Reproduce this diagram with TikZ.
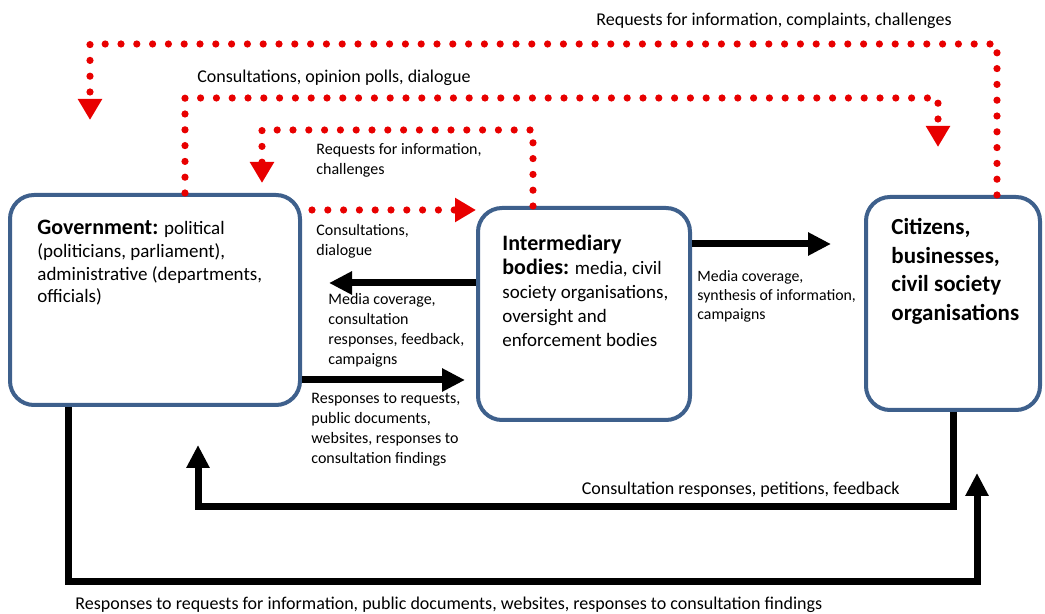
\documentclass[tikz,border=0pt]{standalone}
\usepackage{fontspec}
\setmainfont{Carlito}
\usetikzlibrary{arrows.meta}

\definecolor{boxblue}{RGB}{62,96,140}
\definecolor{dotred}{RGB}{232,0,0}

\begin{document}
\begin{tikzpicture}[x=0.5pt,y=-0.5pt,
	box/.style={draw=boxblue, line width=2pt, rounded corners=12pt},
	reddots/.style={draw=dotred, line width=3.6pt, line cap=round, dash pattern=on 0pt off 7.9pt, -{Triangle[width=11.5pt,length=10.5pt,fill=dotred,color=dotred]}},
	blackflow/.style={draw=black, line width=3.5pt, -{Triangle[width=11pt,length=11.5pt]}},
	lbl/.style={font=\fontsize{8}{10}\selectfont, inner sep=0pt, align=left},
	wide/.style={font=\fontsize{9}{10}\selectfont},
	boxtext/.style={font=\fontsize{9.5}{11.3}\selectfont, inner sep=0pt, align=left, anchor=north west}]

	\useasboundingbox (0,0) rectangle (1045,614);

	\node[box, minimum width=145pt, minimum height=105pt] (gov) at (155,300) {};
	\node[box, minimum width=106pt, minimum height=106pt] (int) at (584,314) {};
	\node[box, minimum width=87pt, minimum height=106.5pt] (cit) at (953,303.5) {};

	\node[boxtext] (govtxt) at (37,220) {{\fontsize{11}{11.3}\selectfont\bfseries Government:} political\\(politicians, parliament),\\administrative (departments,\\officials)};
	\node[boxtext, font=\fontsize{9.5}{11.9}\selectfont] (inttxt) at (502,235) {{\fontsize{11}{11.9}\selectfont\bfseries Intermediary}\\{\fontsize{11}{11.9}\selectfont\bfseries bodies:} media, civil\\society organisations,\\oversight and\\enforcement bodies};
	\node[boxtext, font=\fontsize{11.5}{14.3}\selectfont\bfseries] (cittxt) at (891,218) {Citizens,\\businesses,\\civil society\\organisations};

	\coordinate (o1) at (997,44);
	\coordinate (o2) at (90,120);
	\draw[reddots] (cit.north -| o1) -- (o1) -- (o1 -| o2) -- (o2);

	\coordinate (m1) at (185,98);
	\coordinate (m2) at (938,147);
	\draw[reddots] (gov.north -| m1) -- (m1) -- (m1 -| m2) -- (m2);

	\coordinate (i1) at (533,130);
	\coordinate (i2) at (262,183);
	\draw[reddots] (int.north -| i1) -- (i1) -- (i1 -| i2) -- (i2);

	\coordinate (cons) at (0,210);
	\draw[reddots, shorten <=5pt] (gov.east |- cons) -- (int.west |- cons);

	\coordinate (med) at (0,283);
	\draw[blackflow, shorten >=13.5pt] (int.west |- med) -- (gov.east |- med);

	\coordinate (resp) at (0,380);
	\draw[blackflow, shorten >=5.5pt] (gov.east |- resp) -- (int.west |- resp);

	\coordinate (syn) at (0,244);
	\draw[blackflow, shorten >=16.5pt] (int.east |- syn) -- (cit.west |- syn);

	\coordinate (fb1) at (198,507);
	\coordinate (fb2) at (198,445);
	\draw[blackflow] (cit.south) |- (fb1) -- (fb2);

	\coordinate (rb1) at (68,582);
	\coordinate (rb2) at (977,473);
	\draw[blackflow] (gov.south -| rb1) -- (rb1) -| (rb2);

	\node[lbl, wide] (l1) at (774,21) {Requests for information, complaints, challenges};
	\node[lbl, wide, anchor=west] (l2) at (197,78) {Consultations, opinion polls, dialogue};
	\node[lbl, anchor=north west] (l3) at (316,143) {Requests for information,\\challenges};
	\node[lbl, anchor=north west] (l4) at (316,224) {Consultations,\\dialogue};
	\node[lbl, anchor=north west] (l5) at (328,293) {Media coverage,\\consultation\\responses, feedback,\\campaigns};
	\node[lbl, anchor=north west] (l6) at (311,393) {Responses to requests,\\public documents,\\websites, responses to\\consultation findings};
	\node[lbl, anchor=north west, font=\fontsize{7.9}{9.5}\selectfont] (l7) at (697,270) {Media coverage,\\synthesis of information,\\campaigns};
	\node[lbl, wide, anchor=east] (l8) at (900,490) {Consultation responses, petitions, feedback};
	\node[lbl, wide, anchor=west] (l9) at (75,605) {Responses to requests for information, public documents, websites, responses to consultation findings};
\end{tikzpicture}
\end{document}
